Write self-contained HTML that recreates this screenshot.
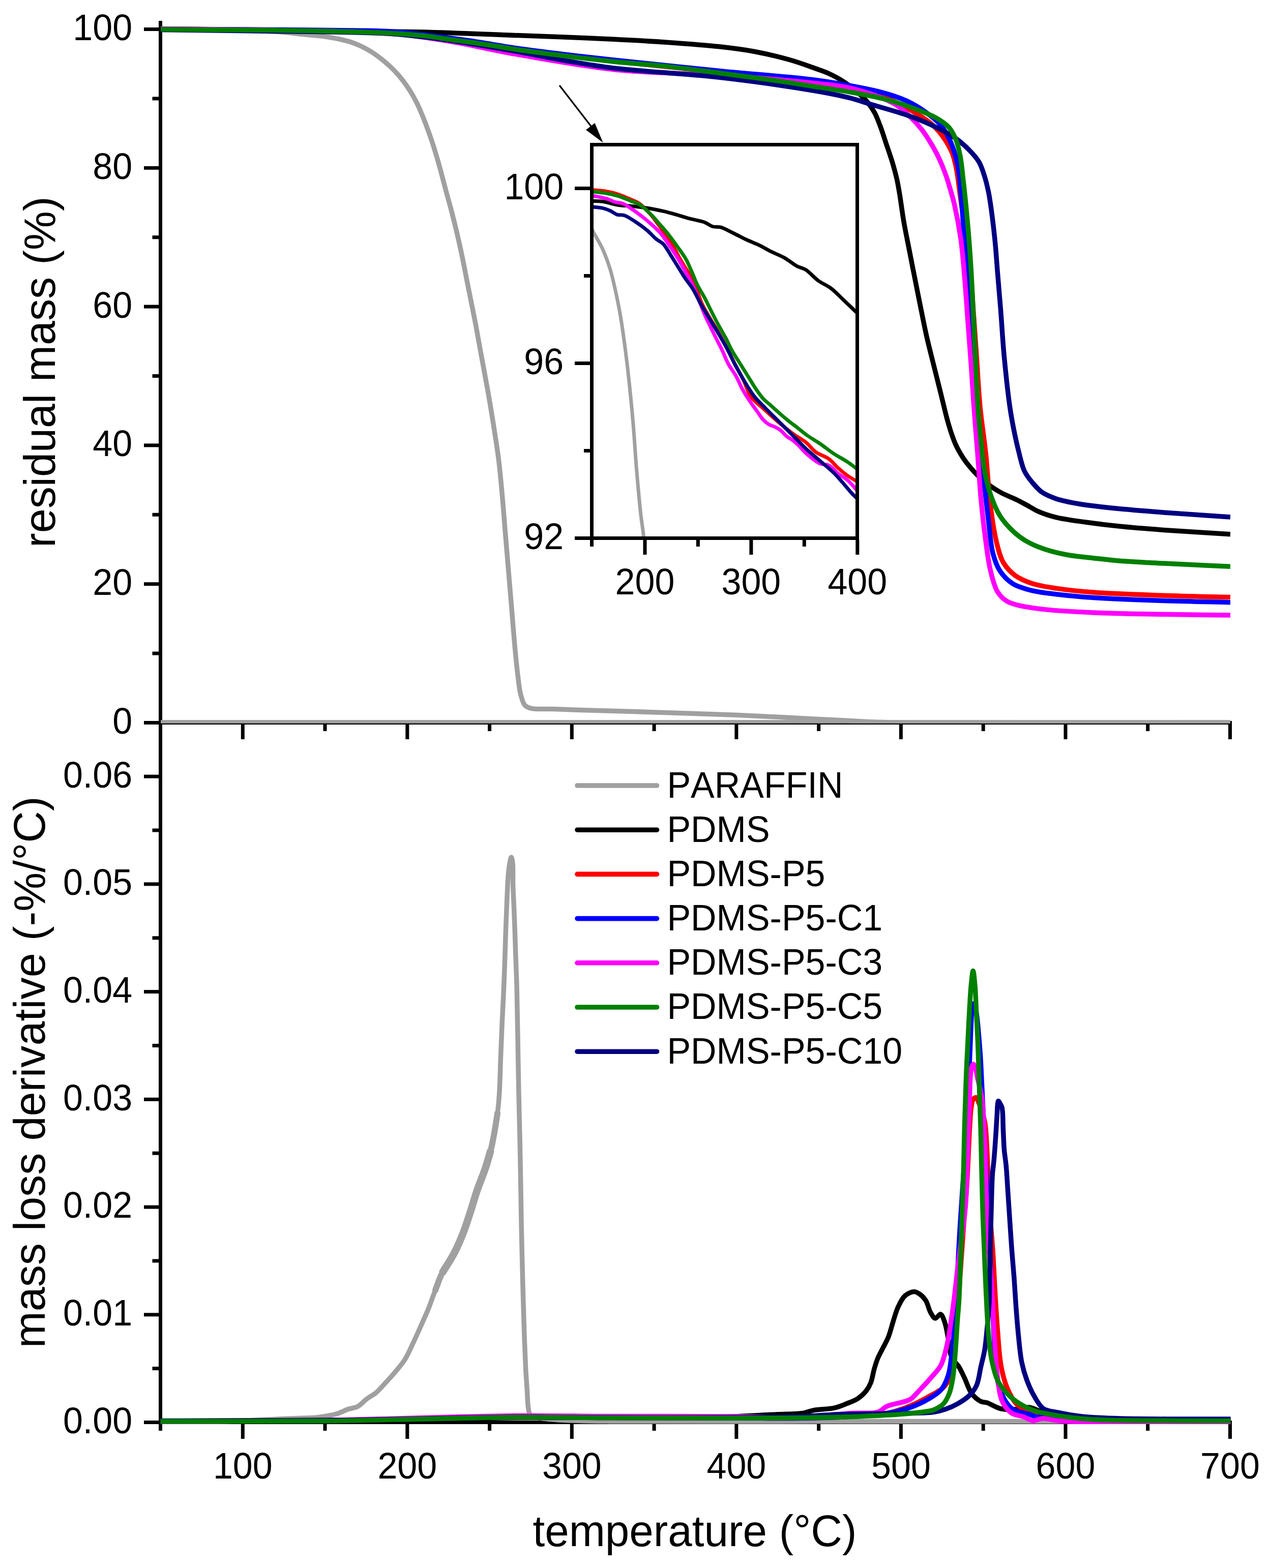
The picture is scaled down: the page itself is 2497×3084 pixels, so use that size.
<!DOCTYPE html><html><head><meta charset="utf-8"><title>TGA / DTG</title>
<style>html,body{margin:0;padding:0;background:#fff;}svg{display:block;}text{font-family:"Liberation Sans",Arial,sans-serif;fill:#000;}</style></head><body>
<svg xmlns="http://www.w3.org/2000/svg" width="2497" height="3084" viewBox="0 0 2497 3084">
<rect x="0" y="0" width="2497" height="3084" fill="#fff"/>
<defs><clipPath id="cT"><rect x="315.5" y="30" width="2104" height="1392.8"/></clipPath><clipPath id="cB"><rect x="315.5" y="1425" width="2104" height="1376"/></clipPath><clipPath id="cI"><rect x="1167" y="288" width="515" height="767"/></clipPath></defs>
<rect x="312.0" y="41.0" width="7.0" height="2773.0" fill="#000"/>
<rect x="312.0" y="1418.0" width="2110.0" height="7.0" fill="#000"/>
<rect x="316.0" y="1416.1" width="2103.0" height="6.7" fill="#a0a0a0"/>
<rect x="312.0" y="2794.0" width="2110.0" height="7.0" fill="#000"/>
<rect x="283.0" y="1418.0" width="29.0" height="7.0" fill="#000"/>
<rect x="299.5" y="1281.6" width="12.5" height="7.0" fill="#000"/>
<rect x="283.0" y="1145.2" width="29.0" height="7.0" fill="#000"/>
<rect x="299.5" y="1008.8" width="12.5" height="7.0" fill="#000"/>
<rect x="283.0" y="872.4" width="29.0" height="7.0" fill="#000"/>
<rect x="299.5" y="736.0" width="12.5" height="7.0" fill="#000"/>
<rect x="283.0" y="599.6" width="29.0" height="7.0" fill="#000"/>
<rect x="299.5" y="463.2" width="12.5" height="7.0" fill="#000"/>
<rect x="283.0" y="326.8" width="29.0" height="7.0" fill="#000"/>
<rect x="299.5" y="190.4" width="12.5" height="7.0" fill="#000"/>
<rect x="283.0" y="54.0" width="29.0" height="7.0" fill="#000"/>
<rect x="283.0" y="2794.0" width="29.0" height="7.0" fill="#000"/>
<rect x="299.5" y="2688.1" width="12.5" height="7.0" fill="#000"/>
<rect x="283.0" y="2582.3" width="29.0" height="7.0" fill="#000"/>
<rect x="299.5" y="2476.4" width="12.5" height="7.0" fill="#000"/>
<rect x="283.0" y="2370.6" width="29.0" height="7.0" fill="#000"/>
<rect x="299.5" y="2264.7" width="12.5" height="7.0" fill="#000"/>
<rect x="283.0" y="2158.8" width="29.0" height="7.0" fill="#000"/>
<rect x="299.5" y="2053.0" width="12.5" height="7.0" fill="#000"/>
<rect x="283.0" y="1947.1" width="29.0" height="7.0" fill="#000"/>
<rect x="299.5" y="1841.3" width="12.5" height="7.0" fill="#000"/>
<rect x="283.0" y="1735.4" width="29.0" height="7.0" fill="#000"/>
<rect x="299.5" y="1629.5" width="12.5" height="7.0" fill="#000"/>
<rect x="283.0" y="1523.7" width="29.0" height="7.0" fill="#000"/>
<rect x="473.8" y="1425.0" width="7.0" height="29.0" fill="#000"/>
<rect x="473.8" y="2801.0" width="7.0" height="29.0" fill="#000"/>
<rect x="635.5" y="1425.0" width="7.0" height="13.0" fill="#000"/>
<rect x="635.5" y="2801.0" width="7.0" height="13.0" fill="#000"/>
<rect x="797.3" y="1425.0" width="7.0" height="29.0" fill="#000"/>
<rect x="797.3" y="2801.0" width="7.0" height="29.0" fill="#000"/>
<rect x="959.1" y="1425.0" width="7.0" height="13.0" fill="#000"/>
<rect x="959.1" y="2801.0" width="7.0" height="13.0" fill="#000"/>
<rect x="1120.8" y="1425.0" width="7.0" height="29.0" fill="#000"/>
<rect x="1120.8" y="2801.0" width="7.0" height="29.0" fill="#000"/>
<rect x="1282.6" y="1425.0" width="7.0" height="13.0" fill="#000"/>
<rect x="1282.6" y="2801.0" width="7.0" height="13.0" fill="#000"/>
<rect x="1444.4" y="1425.0" width="7.0" height="29.0" fill="#000"/>
<rect x="1444.4" y="2801.0" width="7.0" height="29.0" fill="#000"/>
<rect x="1606.2" y="1425.0" width="7.0" height="13.0" fill="#000"/>
<rect x="1606.2" y="2801.0" width="7.0" height="13.0" fill="#000"/>
<rect x="1767.9" y="1425.0" width="7.0" height="29.0" fill="#000"/>
<rect x="1767.9" y="2801.0" width="7.0" height="29.0" fill="#000"/>
<rect x="1929.7" y="1425.0" width="7.0" height="13.0" fill="#000"/>
<rect x="1929.7" y="2801.0" width="7.0" height="13.0" fill="#000"/>
<rect x="2091.5" y="1425.0" width="7.0" height="29.0" fill="#000"/>
<rect x="2091.5" y="2801.0" width="7.0" height="29.0" fill="#000"/>
<rect x="2253.2" y="1425.0" width="7.0" height="13.0" fill="#000"/>
<rect x="2253.2" y="2801.0" width="7.0" height="13.0" fill="#000"/>
<rect x="2415.0" y="1425.0" width="7.0" height="29.0" fill="#000"/>
<rect x="2415.0" y="2801.0" width="7.0" height="29.0" fill="#000"/>
<g fill="none" stroke-width="9.5" stroke-linejoin="round" stroke-linecap="butt" clip-path="url(#cT)">
<path d="M316.0,58.0 C337.3,58.2 358.2,58.3 380.0,58.5 C402.8,58.8 425.2,59.0 450.0,59.5 C478.1,60.1 513.1,60.3 540.0,62.0 C562.0,63.4 581.3,66.1 600.0,68.0 C616.4,69.7 630.7,70.4 646.0,73.0 C661.4,75.6 678.0,78.6 692.0,83.5 C704.7,87.9 715.7,93.2 727.0,100.0 C738.8,107.1 751.0,116.7 761.0,125.3 C769.7,132.8 777.0,140.2 784.0,148.3 C790.9,156.3 797.2,164.8 803.0,173.6 C808.9,182.5 814.1,191.6 819.0,201.3 C824.1,211.5 828.4,221.9 833.0,233.5 C838.4,246.9 844.0,262.4 849.0,277.3 C854.0,292.4 858.5,307.6 863.0,323.4 C867.7,339.9 872.1,357.6 876.5,374.1 C880.7,389.8 884.7,403.1 889.0,420.0 C894.3,440.8 900.5,466.5 905.6,489.9 C910.7,513.2 914.9,536.6 919.6,559.9 C924.3,583.2 929.1,606.5 933.6,629.8 C938.1,653.1 942.1,676.4 946.4,699.7 C950.7,723.0 955.2,746.4 959.3,769.7 C963.4,793.0 967.3,816.7 970.9,839.6 C974.4,861.7 977.8,883.0 980.5,905.0 C983.3,927.3 985.2,949.7 987.3,972.7 C989.5,996.5 991.3,1021.2 993.3,1045.5 C995.3,1069.7 997.4,1094.0 999.4,1118.2 C1001.4,1142.4 1003.5,1166.7 1005.5,1190.9 C1007.5,1215.1 1009.4,1240.5 1011.5,1263.6 C1013.4,1284.7 1015.4,1306.0 1017.6,1324.2 C1019.5,1339.3 1020.6,1354.1 1023.6,1365.5 C1025.9,1374.1 1027.9,1382.7 1032.1,1387.3 C1035.3,1390.8 1038.8,1391.9 1044.2,1393.3 C1053.7,1395.7 1070.8,1394.0 1085.5,1394.5 C1102.4,1395.1 1117.9,1395.8 1140.0,1396.5 C1174.6,1397.6 1225.6,1398.9 1272.8,1400.4 C1326.6,1402.1 1395.4,1404.2 1445.7,1406.3 C1484.7,1407.9 1515.1,1409.6 1549.4,1411.3 C1583.2,1413.0 1619.5,1414.9 1650.0,1416.5 C1675.4,1417.8 1695.9,1419.2 1720.0,1420.0 C1745.8,1420.9 1760.8,1421.1 1800.0,1421.5 C1909.1,1422.5 2212.7,1421.5 2419.0,1421.5" stroke="#a0a0a0"/>
<path d="M316.0,57.5 C410.7,58.2 510.3,58.5 600.0,59.5 C680.7,60.4 759.1,61.2 830.0,63.0 C890.9,64.5 950.3,67.2 1000.0,69.0 C1038.8,70.4 1069.1,71.4 1103.7,72.8 C1138.3,74.2 1172.8,75.6 1207.4,77.3 C1241.9,79.0 1276.5,80.8 1311.0,83.2 C1345.6,85.6 1383.8,88.3 1414.8,91.8 C1440.2,94.6 1461.0,97.2 1483.9,101.5 C1507.0,105.8 1532.3,111.9 1553.0,117.8 C1570.3,122.7 1586.4,128.7 1600.0,133.5 C1610.5,137.2 1618.4,139.6 1627.6,143.8 C1637.5,148.3 1647.8,153.6 1657.6,159.9 C1667.9,166.5 1679.0,175.4 1687.6,182.9 C1694.7,189.2 1700.6,194.8 1706.0,201.4 C1711.3,207.9 1715.7,214.5 1719.8,222.1 C1724.3,230.5 1727.6,240.0 1731.3,249.8 C1735.4,260.6 1739.1,272.8 1742.9,284.3 C1746.8,295.8 1750.9,307.3 1754.4,318.9 C1757.8,330.4 1761.2,342.7 1763.6,353.5 C1765.7,362.9 1766.7,369.5 1768.5,380.0 C1771.1,395.2 1773.8,417.4 1777.0,436.0 C1780.2,454.7 1784.2,473.3 1787.8,492.0 C1791.4,510.6 1795.1,529.3 1798.8,547.9 C1802.5,566.6 1806.2,585.2 1810.0,603.9 C1813.8,622.6 1817.3,641.3 1821.5,659.9 C1825.7,678.6 1830.6,697.2 1835.2,715.9 C1839.8,734.5 1844.6,753.2 1849.2,771.8 C1853.9,790.5 1858.8,812.5 1863.1,827.8 C1866.1,838.5 1868.5,846.5 1871.5,855.0 C1874.2,862.7 1876.5,869.3 1880.0,876.6 C1883.8,884.6 1889.0,893.4 1893.8,900.8 C1898.2,907.5 1902.9,913.4 1907.6,919.1 C1912.1,924.5 1915.9,928.9 1921.5,934.3 C1928.9,941.4 1940.3,950.8 1949.1,957.1 C1956.3,962.3 1962.2,965.8 1969.9,969.9 C1978.9,974.6 1991.2,979.1 2000.0,983.4 C2007.1,986.9 2012.3,989.9 2018.9,993.5 C2026.2,997.5 2033.3,1002.4 2041.9,1006.2 C2052.1,1010.7 2063.4,1014.5 2076.5,1017.7 C2093.1,1021.8 2114.2,1024.2 2134.1,1027.0 C2155.3,1030.0 2176.4,1032.6 2200.0,1035.0 C2227.2,1037.8 2255.7,1040.0 2288.0,1042.4 C2327.3,1045.3 2375.3,1047.9 2419.0,1050.7" stroke="#000000"/>
<path d="M316.0,56.8 C390.7,57.5 470.5,58.0 540.0,59.0 C600.6,59.8 662.3,60.3 710.0,62.0 C744.7,63.3 769.3,64.2 800.0,67.0 C832.5,70.0 866.7,75.2 900.0,80.0 C933.4,84.8 960.6,90.6 1000.0,96.0 C1056.5,103.8 1137.9,112.3 1207.0,120.0 C1276.2,127.7 1347.5,135.2 1414.8,142.0 C1478.3,148.4 1547.9,152.3 1600.0,160.0 C1638.6,165.7 1672.5,172.9 1700.0,180.0 C1719.7,185.1 1734.0,189.3 1750.0,196.0 C1765.9,202.6 1781.9,211.5 1795.9,219.8 C1808.4,227.2 1820.5,234.4 1830.4,242.9 C1839.4,250.6 1846.7,258.8 1853.5,268.2 C1860.6,278.0 1867.4,289.7 1871.9,300.5 C1876.0,310.4 1877.5,318.3 1880.0,330.4 C1883.8,348.7 1886.3,376.0 1890.0,400.0 C1893.9,425.8 1899.7,454.2 1903.0,480.0 C1906.1,504.1 1907.7,527.8 1909.5,550.0 C1911.1,570.1 1912.0,586.0 1913.5,607.4 C1915.4,634.6 1917.8,668.5 1920.0,700.0 C1922.3,732.7 1923.9,767.4 1927.0,800.0 C1930.0,831.4 1934.9,860.5 1938.2,892.2 C1941.7,925.7 1943.5,964.9 1947.5,995.9 C1950.8,1021.3 1954.1,1045.1 1959.0,1065.0 C1962.9,1080.8 1966.0,1095.0 1972.8,1106.5 C1978.8,1116.7 1986.6,1125.0 1995.9,1131.8 C2005.7,1139.0 2017.8,1143.8 2030.4,1147.9 C2044.4,1152.5 2059.3,1154.5 2076.5,1157.1 C2098.1,1160.4 2121.6,1162.9 2150.0,1165.1 C2188.8,1168.1 2242.6,1169.6 2288.0,1171.2 C2332.2,1172.8 2375.3,1173.5 2419.0,1174.6" stroke="#ff0000"/>
<path d="M316.0,57.0 C390.7,57.5 471.8,57.9 540.0,58.5 C597.3,59.0 656.1,59.3 698.0,60.0 C725.7,60.5 743.7,60.3 767.0,61.8 C791.0,63.3 814.9,66.2 840.0,69.1 C866.8,72.2 894.3,75.8 923.0,80.0 C954.1,84.5 988.2,90.9 1020.0,95.5 C1050.5,99.9 1079.4,103.3 1110.0,107.0 C1141.7,110.8 1168.6,113.8 1207.0,118.0 C1263.2,124.1 1347.5,132.8 1414.8,139.5 C1478.3,145.8 1553.3,151.1 1600.0,157.0 C1628.6,160.6 1646.1,163.7 1669.0,168.0 C1692.1,172.3 1717.5,177.1 1738.0,182.9 C1755.1,187.7 1770.0,192.6 1784.0,199.1 C1796.8,205.1 1808.1,212.0 1819.0,219.8 C1829.7,227.4 1840.6,235.7 1848.8,245.2 C1856.5,254.2 1862.3,264.7 1867.3,275.1 C1872.3,285.4 1875.7,296.3 1878.8,307.4 C1881.9,318.6 1883.8,328.9 1885.7,341.9 C1888.1,358.7 1888.9,376.9 1890.8,400.0 C1893.6,434.1 1897.2,490.2 1900.5,526.7 C1903.0,554.5 1905.9,573.6 1908.0,600.0 C1910.5,630.7 1912.2,666.7 1914.0,700.0 C1915.8,733.3 1916.9,769.6 1919.0,800.0 C1920.7,825.4 1922.5,846.8 1925.0,870.0 C1927.4,892.9 1930.7,914.5 1933.6,938.2 C1936.7,964.0 1939.7,993.1 1942.9,1018.9 C1945.9,1042.8 1947.2,1069.2 1952.1,1088.0 C1955.7,1101.8 1959.3,1112.5 1965.9,1122.6 C1972.4,1132.5 1981.0,1141.5 1991.2,1147.9 C2002.2,1154.8 2016.6,1158.4 2030.4,1161.8 C2045.0,1165.4 2059.3,1166.6 2076.5,1168.7 C2098.1,1171.3 2121.6,1173.6 2150.0,1175.5 C2188.8,1178.1 2242.6,1180.1 2288.0,1181.6 C2332.2,1183.1 2375.3,1183.7 2419.0,1184.7" stroke="#0000ff"/>
<path d="M316.0,56.5 C390.7,57.5 470.5,58.3 540.0,59.5 C600.6,60.5 662.3,60.9 710.0,63.0 C744.8,64.5 769.3,65.7 800.0,69.0 C832.5,72.5 866.7,78.2 900.0,84.0 C933.4,89.8 960.6,96.9 1000.0,104.0 C1056.5,114.1 1137.8,129.5 1207.0,136.8 C1275.8,144.1 1359.9,144.7 1414.0,148.0 C1448.9,150.2 1470.3,151.6 1500.0,154.0 C1532.1,156.6 1569.8,160.0 1600.0,163.4 C1625.2,166.3 1647.2,167.9 1669.0,172.6 C1689.3,177.0 1710.1,183.6 1726.7,189.9 C1739.9,194.9 1750.8,199.4 1761.3,206.0 C1771.5,212.5 1780.5,220.8 1789.0,229.0 C1797.3,237.0 1805.1,245.5 1812.0,254.4 C1818.8,263.2 1824.7,272.5 1830.4,282.0 C1836.2,291.7 1841.6,301.5 1846.5,312.0 C1851.6,323.0 1856.4,335.3 1860.4,346.5 C1864.0,356.8 1866.9,367.1 1869.6,376.5 C1872.0,384.8 1873.7,390.0 1876.0,400.0 C1879.9,416.9 1885.6,446.0 1888.9,469.1 C1892.2,492.1 1893.7,513.5 1895.9,538.2 C1898.4,566.7 1900.5,599.7 1902.8,630.4 C1905.1,661.1 1907.6,693.2 1909.7,722.6 C1911.6,749.5 1912.8,773.1 1914.8,800.0 C1916.9,829.4 1919.7,861.5 1922.1,892.2 C1924.5,922.9 1926.2,954.6 1929.0,984.3 C1931.6,1012.1 1934.8,1040.4 1938.2,1065.0 C1941.1,1085.9 1943.2,1105.1 1947.5,1122.6 C1951.2,1137.7 1954.8,1153.5 1961.3,1164.0 C1966.3,1172.1 1972.3,1177.9 1979.7,1182.5 C1987.5,1187.3 1996.9,1189.2 2007.4,1191.7 C2020.7,1194.9 2035.3,1196.6 2053.5,1198.6 C2079.7,1201.4 2114.9,1203.3 2150.0,1204.9 C2191.9,1206.8 2242.6,1207.4 2288.0,1208.3 C2332.2,1209.1 2375.3,1209.4 2419.0,1210.0" stroke="#ff00ff"/>
<path d="M316.0,58.5 C390.7,59.5 482.3,60.8 540.0,61.5 C576.4,61.9 601.2,62.1 629.0,62.5 C653.5,62.9 675.0,63.1 698.0,63.7 C721.0,64.3 743.7,64.7 767.0,66.3 C791.0,68.0 814.9,70.5 840.0,73.6 C866.8,76.9 894.3,81.0 923.0,85.5 C954.1,90.4 988.3,96.3 1020.0,102.0 C1050.6,107.5 1079.4,113.7 1110.0,119.0 C1141.7,124.4 1168.5,129.3 1207.0,134.0 C1263.1,140.8 1347.6,144.6 1414.8,152.3 C1478.4,159.6 1553.3,170.3 1600.0,178.3 C1628.7,183.2 1648.4,187.1 1669.0,192.2 C1686.0,196.5 1698.1,200.9 1715.0,206.0 C1735.7,212.2 1763.5,219.5 1784.0,226.7 C1801.0,232.7 1814.8,238.1 1830.0,245.2 C1845.7,252.6 1863.4,261.6 1876.5,270.5 C1887.3,277.8 1895.8,285.2 1904.0,293.5 C1911.9,301.4 1919.6,309.6 1925.0,318.9 C1930.3,328.1 1933.3,338.9 1936.4,348.8 C1939.3,358.1 1941.4,367.6 1943.3,376.5 C1945.0,384.6 1945.8,390.1 1947.3,400.0 C1949.8,416.9 1953.4,446.0 1955.8,469.0 C1958.2,492.0 1959.6,515.0 1961.5,538.0 C1963.4,561.1 1965.3,582.6 1967.3,607.4 C1969.6,635.9 1971.3,668.2 1974.2,699.5 C1977.3,732.3 1981.6,773.0 1985.5,800.0 C1988.1,818.3 1990.5,831.1 1993.5,846.0 C1996.3,860.2 1999.3,874.0 2002.8,887.6 C2006.2,900.9 2009.0,915.7 2014.3,926.7 C2018.7,935.8 2024.5,942.8 2030.4,949.8 C2036.1,956.6 2041.5,963.1 2048.8,968.2 C2056.7,973.7 2065.9,977.3 2076.5,980.9 C2089.7,985.4 2105.2,988.2 2122.6,991.2 C2145.0,995.0 2173.3,997.8 2200.0,1000.5 C2228.4,1003.4 2255.7,1005.4 2288.0,1007.9 C2327.3,1010.9 2375.3,1013.9 2419.0,1016.9" stroke="#000080"/>
<path d="M316.0,57.5 C390.7,58.2 482.3,58.9 540.0,59.6 C576.4,60.0 601.2,60.4 629.0,60.9 C653.5,61.4 675.0,61.9 698.0,62.6 C721.0,63.3 743.7,63.8 767.0,65.2 C791.0,66.6 819.1,68.7 840.0,71.1 C855.8,72.9 867.7,75.3 881.5,77.3 C895.3,79.2 909.2,80.8 923.0,82.8 C936.8,84.7 949.6,86.7 964.4,89.0 C981.6,91.7 999.6,95.0 1020.0,98.0 C1045.0,101.7 1074.3,105.4 1103.7,109.1 C1136.4,113.2 1172.8,117.6 1207.4,121.2 C1241.9,124.8 1276.5,126.9 1311.0,130.6 C1345.6,134.4 1380.2,139.2 1414.8,143.7 C1449.4,148.2 1486.0,152.9 1518.5,157.5 C1547.3,161.6 1574.0,166.0 1600.0,170.0 C1624.0,173.7 1646.0,176.5 1669.0,180.6 C1692.0,184.7 1716.1,188.8 1738.0,194.5 C1758.3,199.8 1778.2,206.3 1796.0,212.9 C1811.7,218.7 1827.3,224.4 1839.6,231.3 C1849.6,236.9 1858.3,242.5 1865.0,249.8 C1871.1,256.5 1875.1,264.1 1878.8,272.8 C1883.1,282.9 1885.6,295.0 1888.0,307.4 C1890.8,321.6 1892.0,338.1 1893.8,353.5 C1895.6,369.0 1897.1,383.0 1898.8,400.0 C1900.8,420.7 1903.2,446.0 1905.0,469.0 C1906.8,492.0 1908.4,515.0 1909.7,538.0 C1911.1,561.1 1911.9,582.6 1913.1,607.4 C1914.5,635.9 1916.1,668.1 1917.7,699.5 C1919.3,732.3 1920.7,769.7 1922.8,800.0 C1924.6,825.2 1926.7,847.0 1929.0,869.0 C1931.1,889.1 1932.6,908.6 1935.9,926.7 C1938.9,943.0 1942.4,958.0 1947.5,972.8 C1952.5,987.2 1958.2,1002.1 1965.9,1014.3 C1973.0,1025.7 1982.1,1035.6 1991.2,1044.2 C1999.8,1052.3 2008.8,1059.1 2018.9,1065.0 C2029.5,1071.1 2041.0,1075.7 2053.5,1080.0 C2067.6,1084.8 2083.7,1088.6 2099.5,1091.5 C2115.9,1094.5 2133.2,1095.8 2150.0,1097.7 C2166.7,1099.6 2181.0,1101.4 2200.0,1103.0 C2225.2,1105.1 2255.8,1106.4 2288.0,1108.1 C2327.3,1110.2 2375.3,1112.2 2419.0,1114.2" stroke="#008000"/>
</g>
<g fill="none" stroke-width="9.5" stroke-linejoin="round" stroke-linecap="round" clip-path="url(#cB)">
<path d="M316.0,2796.0 C360.7,2795.8 407.9,2796.6 450.0,2795.5 C487.7,2794.5 529.3,2791.5 557.0,2790.4 C574.5,2789.7 588.4,2789.4 600.0,2789.0 C607.9,2788.7 612.8,2788.9 620.0,2788.2 C628.5,2787.4 639.4,2785.6 647.6,2784.0 C654.4,2782.6 660.0,2781.4 666.1,2779.4 C672.3,2777.3 678.3,2773.8 684.5,2771.6 C690.6,2769.5 697.1,2769.5 702.9,2766.5 C709.4,2763.1 715.1,2756.0 721.4,2751.3 C727.4,2746.8 733.9,2743.8 739.8,2738.8 C746.2,2733.3 752.3,2725.8 758.2,2719.5 C763.7,2713.6 768.4,2708.6 774.0,2702.0 C780.8,2693.9 789.4,2684.4 795.8,2674.4 C802.4,2664.1 807.2,2652.1 812.6,2640.8 C817.9,2629.7 822.8,2618.4 827.8,2607.2 C832.8,2596.0 837.9,2584.9 842.5,2573.6 C847.0,2562.5 850.6,2551.4 855.0,2540.0 C859.5,2528.2 863.2,2516.3 869.2,2504.2 C875.9,2490.7 886.7,2477.0 893.9,2463.1 C900.8,2449.6 906.5,2435.9 911.8,2422.1 C917.0,2408.5 921.2,2394.7 925.7,2381.0 C930.1,2367.4 933.8,2353.6 938.5,2340.0 C943.2,2326.3 949.3,2312.6 953.8,2299.3 C958.1,2286.7 961.9,2274.5 965.0,2262.0 C968.1,2249.6 970.3,2237.2 972.5,2224.7 C974.8,2212.2 976.9,2199.5 978.5,2187.0 C980.0,2174.6 980.9,2164.5 981.8,2150.0 C983.1,2129.4 983.6,2099.1 984.6,2075.0 C985.5,2052.6 986.4,2030.2 987.3,2010.0 C988.1,1992.2 989.0,1978.1 989.8,1960.0 C990.8,1938.4 991.8,1910.7 992.6,1888.8 C993.3,1870.1 993.6,1854.0 994.2,1836.6 C994.8,1819.2 995.4,1802.4 996.2,1784.4 C997.0,1765.2 997.8,1740.6 999.0,1725.0 C999.8,1714.9 1000.5,1707.1 1001.8,1700.0 C1002.8,1694.6 1004.2,1686.0 1005.3,1686.0 C1006.3,1686.0 1007.4,1692.1 1008.0,1697.0 C1009.2,1706.6 1008.2,1725.6 1008.6,1740.0 C1009.0,1754.7 1009.9,1769.0 1010.5,1784.4 C1011.2,1801.1 1011.9,1819.2 1012.5,1836.6 C1013.1,1854.0 1013.6,1871.4 1014.2,1888.8 C1014.8,1906.2 1015.6,1921.3 1016.1,1941.0 C1016.8,1966.6 1017.2,1997.4 1017.8,2029.2 C1018.5,2066.8 1019.2,2114.2 1020.0,2152.3 C1020.7,2185.3 1021.6,2215.4 1022.2,2244.6 C1022.8,2270.9 1023.1,2293.2 1023.6,2319.7 C1024.1,2349.6 1024.5,2381.9 1025.2,2415.2 C1026.0,2451.8 1027.0,2494.0 1028.0,2530.4 C1028.9,2563.2 1029.8,2595.5 1030.8,2624.0 C1031.6,2647.9 1032.5,2670.5 1033.5,2690.0 C1034.3,2705.6 1035.3,2718.5 1036.2,2732.2 C1037.1,2745.1 1037.3,2761.0 1038.8,2770.0 C1039.7,2775.2 1039.9,2779.1 1042.0,2782.0 C1043.9,2784.5 1047.1,2785.8 1050.0,2787.0 C1053.0,2788.2 1055.5,2788.3 1060.0,2789.0 C1068.9,2790.3 1083.6,2792.0 1100.0,2793.0 C1125.8,2794.6 1155.6,2794.9 1200.0,2795.5 C1288.9,2796.6 1466.7,2795.5 1600.0,2795.5 C1733.3,2795.5 1865.1,2795.5 2000.0,2795.5 C2138.0,2795.5 2279.3,2795.5 2419.0,2795.5" stroke="#a0a0a0"/>
<path d="M316.0,2795.0 C477.3,2794.0 671.0,2793.5 800.0,2792.0 C886.0,2791.0 938.3,2789.2 1015.0,2788.5 C1103.3,2787.7 1220.3,2788.7 1300.0,2788.0 C1357.7,2787.5 1408.7,2787.0 1449.0,2785.7 C1476.5,2784.8 1498.3,2783.1 1518.5,2782.2 C1534.1,2781.5 1548.9,2781.3 1560.0,2780.7 C1567.4,2780.3 1572.1,2780.6 1578.4,2779.5 C1585.2,2778.4 1591.0,2775.4 1599.2,2773.8 C1610.6,2771.6 1628.9,2771.9 1640.6,2769.2 C1649.5,2767.2 1656.1,2764.2 1663.7,2761.1 C1671.4,2758.0 1680.0,2755.1 1686.7,2750.7 C1692.9,2746.6 1698.6,2741.2 1702.9,2735.8 C1706.9,2730.8 1709.6,2725.9 1712.1,2719.6 C1715.2,2711.8 1716.5,2700.5 1719.0,2692.0 C1721.2,2684.5 1723.2,2677.8 1725.9,2671.2 C1728.6,2664.8 1731.9,2659.3 1735.1,2652.8 C1738.7,2645.6 1743.3,2638.1 1746.6,2629.8 C1750.3,2620.6 1752.8,2609.6 1755.9,2599.8 C1758.9,2590.4 1761.2,2580.8 1765.1,2572.2 C1768.9,2563.9 1773.0,2554.4 1778.9,2549.1 C1784.0,2544.5 1791.9,2540.5 1797.3,2540.5 C1801.6,2540.5 1805.2,2543.1 1808.8,2545.7 C1813.0,2548.7 1817.1,2553.1 1820.4,2558.3 C1824.3,2564.6 1826.0,2575.2 1829.6,2581.4 C1832.4,2586.1 1835.4,2592.5 1838.8,2592.9 C1842.0,2593.3 1846.3,2584.2 1849.2,2584.8 C1852.5,2585.5 1854.9,2593.7 1857.2,2599.8 C1860.3,2608.3 1862.2,2621.2 1864.2,2632.0 C1866.3,2642.9 1866.7,2656.9 1869.5,2665.0 C1871.3,2670.2 1873.5,2673.3 1876.0,2677.0 C1878.5,2680.6 1881.7,2682.8 1884.5,2687.0 C1888.5,2693.0 1892.4,2702.1 1896.4,2710.4 C1900.9,2719.7 1904.2,2732.4 1910.2,2740.4 C1915.3,2747.3 1922.9,2753.7 1928.7,2756.5 C1932.7,2758.5 1935.7,2757.4 1940.2,2758.8 C1947.2,2761.0 1957.5,2768.0 1966.1,2770.3 C1973.8,2772.3 1980.7,2772.7 1989.1,2772.6 C1999.5,2772.4 2013.2,2766.9 2023.7,2768.0 C2032.9,2769.0 2040.0,2774.6 2049.0,2777.2 C2059.0,2780.1 2068.4,2782.2 2081.3,2784.1 C2099.9,2786.9 2125.2,2788.6 2150.4,2789.9 C2180.6,2791.5 2212.4,2791.5 2250.0,2792.0 C2298.9,2792.7 2362.7,2792.7 2419.0,2793.0" stroke="#000000"/>
<path d="M316.0,2795.6 C424.0,2795.3 550.9,2795.8 640.0,2794.8 C702.6,2794.1 742.7,2792.7 800.0,2791.6 C866.4,2790.3 946.0,2788.1 1015.0,2787.6 C1079.0,2787.2 1133.7,2788.3 1200.0,2788.5 C1277.1,2788.8 1383.5,2788.8 1450.0,2789.0 C1494.1,2789.1 1522.9,2790.0 1560.0,2789.5 C1597.9,2789.0 1641.5,2788.1 1675.0,2786.0 C1701.0,2784.4 1723.8,2783.7 1744.3,2779.5 C1761.4,2776.0 1776.3,2770.4 1790.4,2764.6 C1803.0,2759.5 1814.0,2753.4 1825.0,2747.3 C1835.5,2741.5 1847.9,2735.9 1855.0,2728.8 C1860.6,2723.2 1863.6,2717.6 1866.5,2710.4 C1870.0,2701.8 1871.2,2690.9 1873.0,2680.0 C1875.1,2667.6 1876.6,2654.1 1878.0,2640.0 C1879.6,2624.3 1880.6,2608.1 1882.0,2590.0 C1883.6,2568.6 1885.2,2545.4 1887.0,2520.0 C1889.1,2489.6 1891.6,2452.5 1894.0,2420.0 C1896.3,2389.2 1899.0,2361.7 1901.0,2330.0 C1903.3,2294.5 1904.9,2244.6 1906.6,2217.2 C1907.6,2201.4 1908.0,2189.9 1909.4,2179.9 C1910.4,2173.1 1910.7,2166.6 1913.0,2163.0 C1914.5,2160.6 1917.1,2158.1 1918.8,2158.5 C1920.9,2158.9 1922.3,2164.3 1924.0,2168.0 C1926.1,2172.8 1928.1,2178.9 1930.0,2185.0 C1932.2,2192.0 1934.9,2198.8 1936.5,2207.8 C1938.8,2220.5 1939.3,2239.0 1940.2,2254.5 C1941.1,2269.8 1941.4,2283.5 1942.1,2300.0 C1942.9,2319.7 1943.1,2341.1 1944.5,2364.6 C1946.1,2392.9 1949.8,2427.0 1951.9,2457.9 C1953.9,2488.5 1955.2,2520.8 1956.9,2549.1 C1958.4,2573.7 1959.6,2595.2 1961.5,2618.2 C1963.4,2641.3 1964.7,2667.4 1968.4,2687.4 C1971.3,2703.1 1974.4,2716.0 1979.9,2728.8 C1985.2,2741.2 1991.2,2754.9 2000.6,2763.4 C2009.8,2771.7 2021.3,2775.3 2035.2,2779.5 C2054.0,2785.1 2076.9,2787.6 2104.3,2789.9 C2143.8,2793.3 2199.6,2792.5 2250.0,2793.0 C2304.2,2793.6 2362.7,2793.0 2419.0,2793.0" stroke="#ff0000"/>
<path d="M316.0,2795.6 C424.0,2795.3 550.9,2795.8 640.0,2794.8 C702.6,2794.1 742.7,2792.7 800.0,2791.6 C866.4,2790.3 946.0,2788.1 1015.0,2787.6 C1079.0,2787.2 1133.7,2788.3 1200.0,2788.5 C1277.1,2788.8 1383.5,2788.8 1450.0,2789.0 C1494.1,2789.1 1522.9,2790.0 1560.0,2789.5 C1597.9,2789.0 1641.5,2788.1 1675.0,2786.0 C1701.0,2784.4 1723.7,2783.0 1744.3,2779.5 C1761.3,2776.6 1776.4,2773.0 1790.4,2768.0 C1803.0,2763.5 1814.6,2758.0 1825.0,2751.9 C1834.4,2746.4 1843.8,2741.2 1850.3,2733.5 C1856.8,2725.8 1860.7,2716.2 1864.1,2705.8 C1868.1,2693.6 1869.0,2679.9 1871.1,2664.3 C1873.8,2644.2 1876.2,2619.9 1878.0,2595.2 C1880.1,2566.7 1881.1,2532.9 1882.6,2503.0 C1884.1,2474.6 1885.3,2448.2 1887.0,2420.0 C1888.8,2390.6 1890.9,2360.8 1893.0,2330.0 C1895.2,2297.5 1898.0,2264.1 1900.0,2230.0 C1902.1,2194.2 1903.6,2151.2 1905.0,2120.0 C1906.0,2097.0 1906.7,2079.1 1907.5,2060.0 C1908.2,2042.6 1908.8,2023.8 1909.5,2010.0 C1910.0,2000.2 1910.2,1991.6 1911.0,1985.0 C1911.5,1980.6 1911.8,1974.3 1913.0,1974.0 C1913.8,1973.8 1915.1,1976.3 1916.0,1978.0 C1917.3,1980.5 1918.2,1984.2 1919.0,1988.0 C1920.1,1992.9 1920.7,1998.3 1921.5,2005.0 C1922.6,2014.6 1923.7,2027.9 1924.7,2040.0 C1925.8,2052.9 1926.9,2065.3 1927.8,2080.0 C1928.9,2098.0 1929.8,2120.0 1930.8,2140.0 C1931.8,2160.0 1932.9,2180.5 1933.8,2200.0 C1934.6,2218.6 1935.1,2237.2 1936.0,2254.5 C1936.8,2270.4 1937.9,2281.9 1939.0,2300.0 C1940.6,2326.8 1942.5,2366.7 1944.0,2400.0 C1945.5,2433.3 1946.5,2466.7 1948.0,2500.0 C1949.5,2533.3 1951.3,2567.5 1953.0,2600.0 C1954.6,2630.8 1955.0,2665.5 1958.0,2690.0 C1960.1,2707.2 1960.9,2720.1 1966.1,2733.5 C1971.3,2746.8 1978.9,2762.3 1989.1,2770.3 C1998.5,2777.7 2014.8,2778.8 2023.7,2781.8 C2029.3,2783.7 2031.1,2785.3 2037.5,2786.5 C2050.7,2789.1 2074.7,2789.0 2100.0,2790.0 C2139.2,2791.5 2198.5,2792.5 2250.0,2793.0 C2304.7,2793.5 2362.7,2793.0 2419.0,2793.0" stroke="#0000ff"/>
<path d="M316.0,2795.0 C377.3,2794.8 442.9,2794.8 500.0,2794.5 C549.9,2794.3 591.8,2794.3 640.0,2793.5 C691.6,2792.7 742.7,2790.9 800.0,2789.5 C866.4,2787.9 946.0,2785.1 1015.0,2784.5 C1079.0,2783.9 1133.7,2785.3 1200.0,2785.5 C1277.1,2785.8 1383.5,2785.3 1450.0,2786.0 C1494.1,2786.4 1522.9,2789.0 1560.0,2788.0 C1598.0,2786.9 1644.6,2781.3 1675.2,2779.5 C1695.5,2778.3 1713.5,2781.0 1725.9,2777.2 C1734.0,2774.7 1736.9,2768.9 1744.3,2765.7 C1753.8,2761.6 1770.5,2759.3 1778.9,2756.5 C1783.8,2754.9 1786.4,2754.5 1790.4,2751.9 C1796.2,2748.1 1802.4,2740.2 1808.8,2733.5 C1816.1,2725.8 1824.8,2716.5 1831.9,2708.1 C1838.5,2700.3 1845.2,2694.3 1850.0,2685.0 C1855.7,2673.9 1858.7,2659.1 1862.0,2645.0 C1865.6,2629.7 1867.8,2612.5 1870.2,2596.5 C1872.6,2580.9 1874.5,2566.0 1876.5,2550.0 C1878.6,2532.9 1880.3,2515.0 1882.5,2497.0 C1884.8,2478.3 1887.5,2460.0 1890.0,2440.0 C1892.8,2417.9 1896.6,2393.4 1898.5,2370.0 C1900.4,2346.7 1900.6,2322.8 1901.4,2300.0 C1902.2,2278.1 1902.6,2256.5 1903.3,2235.8 C1904.0,2216.5 1905.0,2198.5 1905.7,2179.9 C1906.4,2161.2 1906.6,2138.6 1907.6,2123.9 C1908.2,2114.2 1908.3,2105.5 1910.0,2100.0 C1911.0,2096.8 1912.5,2093.0 1913.7,2093.0 C1915.0,2093.0 1916.4,2097.0 1917.5,2100.0 C1919.3,2104.9 1920.5,2113.3 1922.0,2120.0 C1923.5,2126.7 1925.0,2133.2 1926.5,2140.0 C1928.0,2147.0 1929.7,2151.9 1930.9,2161.2 C1933.2,2178.4 1934.5,2212.9 1935.6,2235.8 C1936.6,2255.3 1937.0,2270.8 1937.6,2290.0 C1938.3,2311.8 1938.8,2342.9 1939.5,2360.0 C1939.9,2369.9 1940.2,2373.5 1940.7,2383.3 C1941.5,2399.8 1942.6,2426.6 1944.0,2450.0 C1945.6,2476.0 1948.4,2505.4 1950.1,2532.5 C1951.7,2558.7 1952.3,2582.5 1954.0,2610.0 C1956.0,2641.3 1957.8,2683.5 1961.5,2710.4 C1964.0,2728.8 1965.0,2744.3 1970.7,2756.5 C1975.2,2766.2 1981.7,2774.5 1989.1,2779.5 C1995.8,2784.0 2005.0,2783.9 2012.2,2786.5 C2018.8,2788.9 2024.4,2794.0 2030.6,2794.5 C2036.6,2795.0 2042.0,2790.3 2049.0,2789.9 C2058.2,2789.4 2068.5,2793.4 2081.3,2794.5 C2100.0,2796.1 2123.0,2796.4 2150.4,2796.8 C2190.8,2797.4 2253.0,2796.5 2300.0,2796.5 C2341.9,2796.5 2379.3,2796.5 2419.0,2796.5" stroke="#ff00ff"/>
<path d="M316.0,2794.5 C424.0,2794.3 550.9,2794.9 640.0,2794.0 C702.6,2793.4 742.7,2792.1 800.0,2791.0 C866.4,2789.8 946.0,2787.5 1015.0,2787.0 C1079.0,2786.6 1133.7,2787.8 1200.0,2788.0 C1277.1,2788.2 1383.5,2788.5 1450.0,2788.0 C1494.1,2787.7 1525.0,2787.6 1560.0,2786.5 C1592.1,2785.5 1618.4,2782.9 1652.2,2781.8 C1693.6,2780.4 1756.7,2780.6 1790.4,2779.5 C1809.9,2778.9 1823.9,2779.1 1836.5,2777.2 C1845.6,2775.9 1851.9,2774.1 1859.5,2771.5 C1867.3,2768.8 1875.1,2765.4 1882.6,2761.1 C1890.5,2756.6 1899.2,2751.3 1905.6,2745.0 C1911.6,2739.1 1916.3,2733.2 1920.0,2725.0 C1924.6,2714.8 1925.9,2699.5 1928.7,2687.4 C1931.3,2676.2 1934.0,2666.7 1936.0,2655.0 C1938.3,2641.3 1939.5,2625.4 1941.0,2610.0 C1942.5,2593.8 1944.2,2577.4 1945.0,2560.0 C1945.9,2540.9 1945.6,2520.0 1946.0,2500.0 C1946.4,2480.0 1946.9,2461.4 1947.4,2440.0 C1948.0,2415.2 1948.8,2383.5 1949.5,2360.0 C1950.1,2341.4 1950.3,2324.4 1951.3,2310.0 C1952.1,2299.0 1953.4,2291.4 1954.3,2281.0 C1955.4,2268.7 1956.3,2255.0 1957.3,2241.0 C1958.4,2225.5 1959.5,2204.7 1960.3,2192.0 C1960.8,2183.9 1960.8,2176.8 1961.5,2172.0 C1961.9,2169.2 1962.2,2165.6 1963.0,2165.5 C1963.7,2165.4 1965.0,2168.2 1966.0,2170.0 C1967.3,2172.3 1969.0,2174.1 1970.0,2178.0 C1972.3,2186.5 1971.7,2206.9 1972.4,2221.0 C1973.1,2234.6 1973.4,2248.6 1974.4,2261.0 C1975.3,2271.7 1977.1,2282.1 1978.0,2291.0 C1978.7,2298.0 1979.0,2302.7 1979.5,2310.0 C1980.2,2320.1 1980.9,2332.7 1981.8,2346.0 C1982.9,2362.6 1984.3,2383.3 1985.5,2401.9 C1986.8,2420.6 1987.9,2439.2 1989.3,2457.9 C1990.7,2476.6 1992.5,2495.2 1993.9,2513.9 C1995.3,2532.6 1996.2,2551.2 1997.6,2569.9 C1999.0,2588.5 2000.4,2607.3 2002.3,2625.8 C2004.2,2644.0 2005.7,2664.0 2009.0,2680.0 C2011.7,2693.1 2015.0,2703.9 2019.1,2715.0 C2023.0,2725.5 2027.4,2735.7 2032.9,2745.0 C2038.2,2754.1 2043.2,2764.7 2051.3,2770.3 C2059.4,2775.8 2070.2,2776.0 2081.3,2778.4 C2095.0,2781.4 2110.4,2784.1 2127.4,2786.0 C2148.1,2788.3 2170.1,2788.9 2196.5,2789.8 C2231.7,2790.9 2281.1,2790.8 2320.0,2791.0 C2354.8,2791.2 2386.0,2791.0 2419.0,2791.0" stroke="#000080"/>
<path d="M316.0,2795.6 C424.0,2795.3 550.9,2795.8 640.0,2794.8 C702.6,2794.1 742.7,2792.7 800.0,2791.6 C866.4,2790.3 946.0,2788.1 1015.0,2787.6 C1079.0,2787.2 1133.7,2788.3 1200.0,2788.5 C1277.1,2788.8 1383.5,2789.0 1450.0,2789.0 C1494.1,2789.0 1522.9,2789.2 1560.0,2788.8 C1598.0,2788.4 1638.9,2787.8 1675.2,2786.5 C1707.7,2785.3 1742.0,2783.7 1767.4,2781.8 C1785.4,2780.4 1800.8,2779.1 1813.5,2777.2 C1822.5,2775.9 1829.5,2775.4 1836.5,2772.6 C1843.3,2769.9 1850.1,2766.3 1855.0,2761.1 C1860.2,2755.7 1863.5,2748.2 1866.5,2740.4 C1869.9,2731.5 1871.6,2721.5 1873.4,2710.4 C1875.6,2696.7 1876.6,2681.2 1878.0,2664.3 C1879.7,2643.6 1881.2,2614.4 1882.6,2595.2 C1883.6,2581.5 1884.6,2573.3 1885.4,2560.0 C1886.4,2542.6 1887.1,2518.7 1887.8,2499.9 C1888.4,2483.4 1889.0,2468.8 1889.5,2453.3 C1890.0,2437.7 1890.5,2422.2 1891.0,2406.6 C1891.5,2391.1 1892.1,2376.5 1892.6,2360.0 C1893.2,2341.3 1893.9,2321.6 1894.5,2300.0 C1895.2,2274.6 1895.7,2242.1 1896.4,2217.2 C1897.0,2196.7 1897.6,2179.9 1898.2,2161.2 C1898.8,2142.5 1899.3,2123.9 1900.1,2105.2 C1900.9,2086.6 1902.0,2067.9 1902.9,2049.3 C1903.8,2030.6 1904.6,2012.0 1905.7,1993.3 C1906.8,1974.6 1907.8,1952.7 1909.4,1937.3 C1910.5,1926.4 1911.9,1909.5 1913.2,1909.5 C1914.4,1909.5 1915.9,1926.4 1916.9,1937.3 C1918.3,1952.7 1918.8,1974.6 1919.7,1993.3 C1920.6,2012.0 1921.7,2030.6 1922.5,2049.3 C1923.3,2067.9 1923.8,2086.6 1924.4,2105.2 C1925.0,2123.9 1925.6,2142.5 1926.2,2161.2 C1926.8,2179.9 1927.5,2196.7 1928.1,2217.2 C1928.8,2242.1 1929.4,2274.6 1930.0,2300.0 C1930.5,2321.6 1931.0,2341.3 1931.5,2360.0 C1932.0,2376.5 1932.4,2391.1 1933.0,2406.6 C1933.6,2422.2 1934.4,2437.7 1935.0,2453.3 C1935.6,2468.8 1936.1,2483.4 1936.8,2499.9 C1937.6,2518.7 1938.6,2540.1 1939.6,2560.0 C1940.6,2579.6 1941.3,2598.9 1943.0,2618.2 C1944.7,2637.5 1946.4,2658.7 1950.0,2675.9 C1953.0,2690.3 1956.0,2703.8 1961.5,2715.0 C1966.3,2724.9 1972.7,2732.8 1979.9,2740.4 C1987.3,2748.2 1996.1,2755.4 2005.3,2761.1 C2014.5,2766.9 2023.9,2771.2 2035.2,2774.9 C2048.7,2779.4 2064.3,2781.9 2081.3,2784.6 C2101.9,2787.9 2122.2,2790.3 2150.4,2792.0 C2194.4,2794.7 2271.0,2794.1 2320.0,2794.5 C2357.4,2794.8 2386.0,2794.6 2419.0,2794.7" stroke="#008000"/>
</g>
<path d="M855.0,2540.0 C859.7,2528.1 863.2,2516.3 869.2,2504.2 C875.9,2490.7 886.7,2477.0 893.9,2463.1 C900.8,2449.6 906.5,2435.9 911.8,2422.1 C917.0,2408.5 921.2,2394.7 925.7,2381.0 C930.1,2367.4 933.8,2353.6 938.5,2340.0 C943.2,2326.3 949.3,2312.6 953.8,2299.3 C958.1,2286.7 961.9,2274.5 965.0,2262.0 C968.1,2249.6 970.3,2237.2 972.5,2224.7 C974.8,2212.2 976.5,2199.6 978.5,2187.0" fill="none" stroke="#a0a0a0" stroke-width="12" stroke-linecap="butt" stroke-linejoin="round"/>
<path d="M869.2,2504.2 C877.4,2490.5 886.7,2477.0 893.9,2463.1 C900.8,2449.6 906.5,2435.9 911.8,2422.1 C917.0,2408.5 921.2,2394.7 925.7,2381.0 C930.1,2367.4 933.8,2353.6 938.5,2340.0 C943.2,2326.3 949.3,2312.6 953.8,2299.3 C958.1,2286.7 961.3,2274.4 965.0,2262.0" fill="none" stroke="#a0a0a0" stroke-width="14.5" stroke-linecap="butt" stroke-linejoin="round"/>
<rect x="1163.5" y="284.5" width="522" height="774" fill="#fff" stroke="none"/>
<g fill="none" stroke-width="7" stroke-linejoin="round" clip-path="url(#cI)">
<path d="M1163.0,446.0 C1163.5,448.0 1163.5,449.2 1164.6,452.0 C1167.5,459.2 1178.8,476.5 1184.6,489.4 C1190.4,502.3 1195.4,515.9 1199.6,529.3 C1203.7,542.5 1206.3,555.1 1209.5,569.2 C1213.0,584.9 1216.6,602.4 1219.5,619.1 C1222.4,635.7 1224.6,651.7 1227.0,669.1 C1229.6,688.2 1232.0,706.5 1234.5,729.0 C1237.8,758.0 1241.6,795.5 1244.5,828.8 C1247.4,862.0 1249.3,897.2 1252.0,928.6 C1254.4,956.7 1257.0,985.5 1259.5,1008.5 C1261.4,1026.1 1264.3,1042.7 1265.4,1055.0 C1266.1,1063.0 1266.1,1068.3 1266.5,1075.0" stroke="#a0a0a0"/>
<path d="M1160.0,395.5 C1168.1,395.8 1175.6,395.2 1184.2,396.3 C1194.2,397.6 1206.5,402.0 1216.5,403.5 C1225.1,404.8 1232.0,404.4 1240.6,405.2 C1250.6,406.2 1262.2,407.5 1272.9,409.2 C1283.7,410.9 1295.2,413.3 1305.2,415.6 C1313.9,417.6 1321.4,419.8 1329.4,422.1 C1337.5,424.4 1344.8,427.0 1353.5,429.4 C1363.4,432.1 1377.2,434.1 1385.8,437.4 C1392.0,439.8 1395.7,443.9 1401.0,445.5 C1406.0,447.0 1411.0,445.3 1416.7,446.8 C1424.3,448.8 1433.5,454.5 1441.8,458.5 C1450.2,462.5 1458.4,467.1 1466.8,471.0 C1475.1,474.9 1483.6,477.9 1491.9,481.9 C1500.3,486.0 1508.5,491.0 1516.9,495.2 C1525.2,499.3 1533.8,502.3 1542.0,506.9 C1550.6,511.7 1559.4,519.5 1567.1,523.6 C1573.1,526.7 1578.0,526.8 1583.8,530.3 C1591.7,535.1 1600.2,545.7 1608.8,552.0 C1616.9,557.9 1625.8,561.0 1633.9,567.1 C1642.6,573.7 1650.1,582.1 1658.9,590.4 C1668.7,599.7 1679.6,610.1 1690.0,620.0" stroke="#000000"/>
<path d="M1160.0,373.0 C1170.8,374.2 1182.4,374.7 1192.3,376.5 C1201.0,378.0 1208.5,379.9 1216.5,382.5 C1224.6,385.2 1233.4,389.3 1240.6,392.5 C1246.6,395.1 1251.2,396.1 1256.8,400.0 C1264.5,405.4 1274.1,416.1 1281.0,424.0 C1286.9,430.8 1291.2,437.5 1296.0,444.0 C1300.5,450.1 1304.8,456.0 1309.0,462.0 C1313.1,468.0 1316.9,473.2 1321.0,480.0 C1326.0,488.2 1331.1,498.7 1336.4,508.0 C1341.8,517.4 1348.1,527.2 1353.2,536.0 C1357.8,543.8 1361.8,549.7 1365.8,558.4 C1370.9,569.4 1374.6,585.2 1380.0,597.0 C1384.8,607.6 1390.6,616.5 1396.0,626.0 C1401.3,635.2 1406.7,643.6 1412.0,653.0 C1417.7,662.9 1423.6,673.7 1429.0,684.0 C1434.3,694.0 1438.8,703.9 1444.0,714.0 C1449.4,724.5 1455.7,735.1 1461.0,746.0 C1466.4,757.1 1469.5,770.3 1476.3,780.0 C1482.7,789.1 1491.7,795.3 1500.0,803.0 C1508.9,811.3 1518.4,819.8 1528.0,828.0 C1537.9,836.4 1548.6,845.5 1558.6,852.9 C1567.7,859.6 1577.7,864.3 1585.4,870.7 C1592.3,876.3 1596.2,883.4 1603.2,888.6 C1610.9,894.3 1622.3,897.2 1630.0,902.9 C1637.0,908.1 1641.8,915.2 1647.9,920.7 C1653.7,925.9 1659.1,930.4 1665.7,935.0 C1673.0,940.2 1681.9,945.0 1690.0,950.0" stroke="#ff0000"/>
<path d="M1160.0,384.0 C1170.8,386.2 1183.5,387.9 1192.3,390.6 C1198.7,392.5 1203.0,395.5 1208.4,397.1 C1213.7,398.7 1219.3,398.3 1224.5,400.3 C1230.1,402.5 1234.8,406.1 1240.6,410.0 C1247.9,414.9 1257.2,421.7 1264.8,427.7 C1272.0,433.4 1278.9,439.3 1285.0,445.0 C1290.4,450.1 1294.9,454.1 1299.8,460.0 C1305.7,467.1 1311.9,476.6 1317.6,485.0 C1323.2,493.3 1328.7,501.6 1333.8,510.0 C1338.8,518.3 1343.3,526.6 1347.9,535.0 C1352.5,543.3 1357.0,550.8 1361.4,560.0 C1366.4,570.6 1371.6,584.3 1376.0,595.0 C1379.7,604.0 1382.6,612.2 1386.0,620.0 C1389.1,627.1 1392.1,633.0 1395.5,640.0 C1399.3,647.9 1403.7,656.7 1407.8,665.0 C1412.0,673.3 1416.4,681.6 1420.4,690.0 C1424.3,698.3 1427.1,706.8 1431.5,715.0 C1436.0,723.5 1442.6,731.5 1447.3,740.0 C1451.9,748.2 1454.9,756.8 1459.4,765.0 C1464.1,773.5 1469.8,782.4 1474.9,790.0 C1479.3,796.6 1483.7,802.1 1488.0,808.0 C1492.1,813.7 1495.7,820.2 1500.0,824.9 C1503.6,828.9 1507.5,832.3 1511.5,834.7 C1515.2,836.9 1519.2,837.4 1523.0,839.3 C1526.9,841.2 1530.9,843.3 1534.6,846.2 C1538.7,849.4 1542.1,854.5 1546.1,857.8 C1549.8,860.8 1553.9,862.5 1557.6,865.3 C1561.5,868.2 1565.0,871.2 1569.1,875.0 C1574.2,879.8 1579.0,886.5 1585.4,892.1 C1593.0,898.8 1603.7,908.1 1612.1,911.8 C1618.3,914.6 1624.4,912.6 1630.0,915.4 C1636.4,918.6 1641.8,926.6 1647.9,931.4 C1653.7,936.0 1659.6,938.6 1665.7,943.9 C1673.5,950.7 1681.9,961.3 1690.0,970.0" stroke="#ff00ff"/>
<path d="M1160.0,406.5 C1168.1,407.4 1177.0,407.6 1184.2,409.2 C1190.2,410.6 1195.3,412.5 1200.3,414.8 C1204.9,416.9 1208.6,420.6 1213.2,422.1 C1217.8,423.6 1222.6,422.0 1227.7,423.7 C1234.3,425.8 1241.6,431.2 1248.7,435.8 C1256.6,441.0 1265.7,447.5 1272.9,453.5 C1279.3,458.9 1284.4,465.4 1290.0,470.0 C1294.8,474.0 1299.9,475.5 1304.2,480.0 C1309.4,485.4 1313.6,493.9 1318.2,501.0 C1322.9,508.3 1327.5,515.9 1332.2,523.4 C1336.9,530.9 1341.2,538.3 1346.2,545.8 C1351.4,553.7 1357.8,561.1 1363.0,569.6 C1368.6,578.7 1373.0,589.4 1378.4,599.0 C1383.7,608.5 1389.6,617.7 1395.2,627.0 C1400.8,636.3 1406.3,645.3 1412.0,655.0 C1418.0,665.3 1424.5,676.4 1430.2,687.1 C1435.7,697.4 1440.1,707.7 1445.6,718.0 C1451.3,728.7 1457.5,739.6 1463.8,750.0 C1470.0,760.3 1476.2,771.0 1483.3,780.0 C1490.0,788.5 1497.3,795.0 1505.0,802.9 C1513.4,811.5 1522.9,820.7 1531.8,829.6 C1540.7,838.5 1549.7,847.5 1558.6,856.4 C1567.5,865.3 1576.3,874.7 1585.4,883.2 C1594.2,891.4 1603.2,898.7 1612.1,906.4 C1621.0,914.1 1631.1,921.9 1638.9,929.6 C1645.7,936.2 1650.9,942.6 1656.8,949.3 C1662.8,956.1 1668.7,963.8 1674.6,970.0 C1679.8,975.5 1684.9,980.0 1690.0,985.0" stroke="#000080"/>
<path d="M1160.0,376.5 C1170.8,377.7 1182.4,378.5 1192.3,380.2 C1201.0,381.7 1208.5,383.3 1216.5,385.8 C1224.6,388.4 1233.4,392.6 1240.6,395.5 C1246.5,397.9 1251.2,398.5 1256.8,401.9 C1264.4,406.5 1274.0,415.9 1281.0,422.9 C1287.1,429.0 1291.7,434.9 1297.0,441.0 C1302.4,447.2 1307.8,453.1 1313.3,460.0 C1319.4,467.7 1325.8,476.6 1331.8,485.0 C1337.7,493.3 1344.0,501.5 1348.8,510.0 C1353.4,518.1 1356.6,526.6 1360.3,535.0 C1364.0,543.3 1366.9,551.8 1370.9,560.0 C1375.1,568.5 1380.4,576.4 1385.0,585.0 C1389.8,594.0 1394.3,603.8 1399.0,613.0 C1403.6,622.1 1408.2,631.2 1412.9,640.0 C1417.5,648.5 1422.5,656.6 1427.0,665.0 C1431.4,673.3 1434.9,681.8 1439.5,690.0 C1444.2,698.4 1449.8,706.7 1455.0,715.0 C1460.2,723.3 1465.4,731.7 1470.6,740.0 C1475.8,748.3 1481.0,757.4 1486.2,765.0 C1490.8,771.7 1494.8,777.8 1500.0,783.5 C1505.2,789.2 1511.5,793.8 1517.3,799.0 C1523.1,804.2 1528.8,809.6 1534.6,814.6 C1540.3,819.5 1546.0,824.4 1551.8,829.0 C1557.5,833.6 1563.4,837.7 1569.1,842.2 C1574.9,846.7 1579.9,851.4 1586.4,856.0 C1594.0,861.4 1603.5,866.6 1612.1,872.5 C1621.0,878.6 1629.8,886.1 1638.9,892.1 C1647.7,897.9 1657.1,902.5 1665.7,908.2 C1674.1,913.8 1681.9,920.1 1690.0,926.0" stroke="#008000"/>
</g>
<rect x="1163.5" y="284.5" width="522" height="774" fill="none" stroke="#000" stroke-width="7"/>
<rect x="1130.0" y="1055.0" width="30.0" height="7.0" fill="#000"/>
<rect x="1148.0" y="883.0" width="12.0" height="7.0" fill="#000"/>
<rect x="1130.0" y="711.0" width="30.0" height="7.0" fill="#000"/>
<rect x="1148.0" y="539.0" width="12.0" height="7.0" fill="#000"/>
<rect x="1130.0" y="367.0" width="30.0" height="7.0" fill="#000"/>
<rect x="1160.0" y="1062.0" width="7.0" height="13.0" fill="#000"/>
<rect x="1264.5" y="1062.0" width="7.0" height="29.0" fill="#000"/>
<rect x="1368.9" y="1062.0" width="7.0" height="13.0" fill="#000"/>
<rect x="1473.4" y="1062.0" width="7.0" height="29.0" fill="#000"/>
<rect x="1577.8" y="1062.0" width="7.0" height="13.0" fill="#000"/>
<rect x="1682.3" y="1062.0" width="7.0" height="29.0" fill="#000"/>
<line x1="1100" y1="168" x2="1168" y2="256" stroke="#000" stroke-width="3.2"/>
<polygon points="1185.6,280.5 1152,255.5 1169.5,242" fill="#000"/>
<line x1="1135" y1="1545.0" x2="1291.5" y2="1545.0" stroke="#a0a0a0" stroke-width="9.6" stroke-linecap="round"/>
<line x1="1135" y1="1632.2" x2="1291.5" y2="1632.2" stroke="#000000" stroke-width="9.6" stroke-linecap="round"/>
<line x1="1135" y1="1719.4" x2="1291.5" y2="1719.4" stroke="#ff0000" stroke-width="9.6" stroke-linecap="round"/>
<line x1="1135" y1="1806.6" x2="1291.5" y2="1806.6" stroke="#0000ff" stroke-width="9.6" stroke-linecap="round"/>
<line x1="1135" y1="1893.8" x2="1291.5" y2="1893.8" stroke="#ff00ff" stroke-width="9.6" stroke-linecap="round"/>
<line x1="1135" y1="1981.0" x2="1291.5" y2="1981.0" stroke="#008000" stroke-width="9.6" stroke-linecap="round"/>
<line x1="1135" y1="2068.2" x2="1291.5" y2="2068.2" stroke="#000080" stroke-width="9.6" stroke-linecap="round"/>
<text transform="translate(260.10,1443.00) scale(1.0000,1.0450)" font-size="70" text-anchor="end" style="font-kerning:none">0</text>
<text transform="translate(260.10,1170.20) scale(1.0000,1.0450)" font-size="70" text-anchor="end" style="font-kerning:none">20</text>
<text transform="translate(260.10,897.40) scale(1.0000,1.0450)" font-size="70" text-anchor="end" style="font-kerning:none">40</text>
<text transform="translate(260.10,624.60) scale(1.0000,1.0450)" font-size="70" text-anchor="end" style="font-kerning:none">60</text>
<text transform="translate(260.10,351.80) scale(1.0000,1.0450)" font-size="70" text-anchor="end" style="font-kerning:none">80</text>
<text transform="translate(260.10,79.00) scale(1.0000,1.0450)" font-size="70" text-anchor="end" style="font-kerning:none">100</text>
<text transform="translate(260.10,2818.85) scale(1.0000,1.0450)" font-size="70" text-anchor="end" style="font-kerning:none">0.00</text>
<text transform="translate(260.10,2607.13) scale(1.0000,1.0450)" font-size="70" text-anchor="end" style="font-kerning:none">0.01</text>
<text transform="translate(260.10,2395.41) scale(1.0000,1.0450)" font-size="70" text-anchor="end" style="font-kerning:none">0.02</text>
<text transform="translate(260.10,2183.69) scale(1.0000,1.0450)" font-size="70" text-anchor="end" style="font-kerning:none">0.03</text>
<text transform="translate(260.10,1971.97) scale(1.0000,1.0450)" font-size="70" text-anchor="end" style="font-kerning:none">0.04</text>
<text transform="translate(260.10,1760.25) scale(1.0000,1.0450)" font-size="70" text-anchor="end" style="font-kerning:none">0.05</text>
<text transform="translate(260.10,1548.53) scale(1.0000,1.0450)" font-size="70" text-anchor="end" style="font-kerning:none">0.06</text>
<text transform="translate(477.27,2907.70) scale(1.0000,1.0450)" font-size="70" text-anchor="middle" style="font-kerning:none">100</text>
<text transform="translate(800.81,2907.70) scale(1.0000,1.0450)" font-size="70" text-anchor="middle" style="font-kerning:none">200</text>
<text transform="translate(1124.35,2907.70) scale(1.0000,1.0450)" font-size="70" text-anchor="middle" style="font-kerning:none">300</text>
<text transform="translate(1447.89,2907.70) scale(1.0000,1.0450)" font-size="70" text-anchor="middle" style="font-kerning:none">400</text>
<text transform="translate(1771.43,2907.70) scale(1.0000,1.0450)" font-size="70" text-anchor="middle" style="font-kerning:none">500</text>
<text transform="translate(2094.97,2907.70) scale(1.0000,1.0450)" font-size="70" text-anchor="middle" style="font-kerning:none">600</text>
<text transform="translate(2418.51,2907.70) scale(1.0000,1.0450)" font-size="70" text-anchor="middle" style="font-kerning:none">700</text>
<text transform="translate(1108.20,1079.55) scale(1.0000,1.0450)" font-size="70" text-anchor="end" style="font-kerning:none">92</text>
<text transform="translate(1108.20,735.55) scale(1.0000,1.0450)" font-size="70" text-anchor="end" style="font-kerning:none">96</text>
<text transform="translate(1108.20,391.55) scale(1.0000,1.0450)" font-size="70" text-anchor="end" style="font-kerning:none">100</text>
<text transform="translate(1267.96,1168.50) scale(1.0000,1.0450)" font-size="70" text-anchor="middle" style="font-kerning:none">200</text>
<text transform="translate(1476.88,1168.50) scale(1.0000,1.0450)" font-size="70" text-anchor="middle" style="font-kerning:none">300</text>
<text transform="translate(1685.80,1168.50) scale(1.0000,1.0450)" font-size="70" text-anchor="middle" style="font-kerning:none">400</text>
<text transform="translate(1311.40,1568.90) scale(1.0000,1.0450)" font-size="70" text-anchor="start" style="font-kerning:none">PARAFFIN</text>
<text transform="translate(1311.40,1656.00) scale(1.0000,1.0450)" font-size="70" text-anchor="start" style="font-kerning:none">PDMS</text>
<text transform="translate(1311.40,1743.10) scale(1.0000,1.0450)" font-size="70" text-anchor="start" style="font-kerning:none">PDMS-P5</text>
<text transform="translate(1311.40,1830.20) scale(1.0000,1.0450)" font-size="70" text-anchor="start" style="font-kerning:none">PDMS-P5-C1</text>
<text transform="translate(1311.40,1917.30) scale(1.0000,1.0450)" font-size="70" text-anchor="start" style="font-kerning:none">PDMS-P5-C3</text>
<text transform="translate(1311.40,2004.40) scale(1.0000,1.0450)" font-size="70" text-anchor="start" style="font-kerning:none">PDMS-P5-C5</text>
<text transform="translate(1311.40,2091.50) scale(1.0000,1.0450)" font-size="70" text-anchor="start" style="font-kerning:none">PDMS-P5-C10</text>
<text transform="translate(1047.4,3041.3) scale(0.99,1.0)" font-size="86.3" style="font-kerning:none">temperature (°C)</text>
<text transform="translate(108.44,1077.1) rotate(-90)" font-size="86.3" style="font-kerning:none">residual mass (%)</text>
<text transform="translate(88.44,2651.2) rotate(-90)" font-size="86.3" style="font-kerning:none">mass loss derivative (-%/°C)</text>
</svg></body></html>
